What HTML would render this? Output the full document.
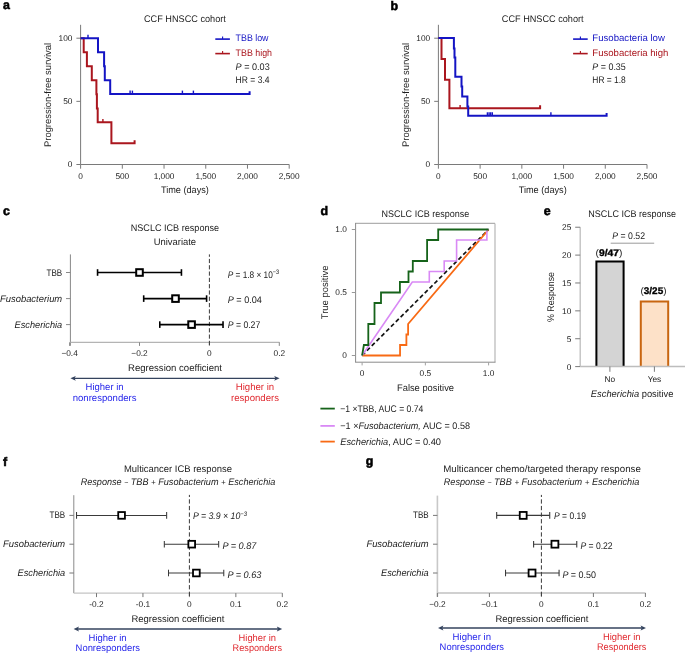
<!DOCTYPE html>
<html><head><meta charset="utf-8"><title>figure</title>
<style>
html,body{margin:0;padding:0;background:#fff;}
svg{display:block;font-family:"Liberation Sans",sans-serif;will-change:transform;text-rendering:geometricPrecision;}
</style></head>
<body>
<svg width="685" height="653" viewBox="0 0 685 653" fill="#1c1c1c">
<rect width="685" height="653" fill="#fff"/>
<line x1="80.60" y1="24.80" x2="80.60" y2="164.50" stroke="#7a7a7a" stroke-width="1" />
<line x1="80.60" y1="164.50" x2="289.20" y2="164.50" stroke="#7a7a7a" stroke-width="1" />
<line x1="76.40" y1="38.20" x2="80.60" y2="38.20" stroke="#7a7a7a" stroke-width="1" />
<text x="72.40" y="41.10" font-size="8.3" text-anchor="end" >100</text>
<line x1="76.40" y1="101.35" x2="80.60" y2="101.35" stroke="#7a7a7a" stroke-width="1" />
<text x="72.40" y="104.25" font-size="8.3" text-anchor="end" >50</text>
<line x1="76.40" y1="164.50" x2="80.60" y2="164.50" stroke="#7a7a7a" stroke-width="1" />
<text x="72.40" y="167.40" font-size="8.3" text-anchor="end" >0</text>
<line x1="80.60" y1="164.50" x2="80.60" y2="168.70" stroke="#7a7a7a" stroke-width="1" />
<text x="80.60" y="179.20" font-size="8.3" text-anchor="middle" >0</text>
<line x1="122.32" y1="164.50" x2="122.32" y2="168.70" stroke="#7a7a7a" stroke-width="1" />
<text x="122.32" y="179.20" font-size="8.3" text-anchor="middle" >500</text>
<line x1="164.04" y1="164.50" x2="164.04" y2="168.70" stroke="#7a7a7a" stroke-width="1" />
<text x="164.04" y="179.20" font-size="8.3" text-anchor="middle" >1,000</text>
<line x1="205.76" y1="164.50" x2="205.76" y2="168.70" stroke="#7a7a7a" stroke-width="1" />
<text x="205.76" y="179.20" font-size="8.3" text-anchor="middle" >1,500</text>
<line x1="247.48" y1="164.50" x2="247.48" y2="168.70" stroke="#7a7a7a" stroke-width="1" />
<text x="247.48" y="179.20" font-size="8.3" text-anchor="middle" >2,000</text>
<line x1="289.20" y1="164.50" x2="289.20" y2="168.70" stroke="#7a7a7a" stroke-width="1" />
<text x="289.20" y="179.20" font-size="8.3" text-anchor="middle" >2,500</text>
<text x="184.90" y="193.30" font-size="9.6" text-anchor="middle" textLength="48.00" lengthAdjust="spacingAndGlyphs" >Time (days)</text>
<text transform="translate(51.20,95) rotate(-90)" font-size="9.6" text-anchor="middle" textLength="104" lengthAdjust="spacingAndGlyphs" fill="#1c1c1c">Progression-free survival</text>
<text x="144.00" y="22.00" font-size="9.6" textLength="81.80" lengthAdjust="spacingAndGlyphs" >CCF HNSCC cohort</text>
<line x1="215.30" y1="39.10" x2="229.90" y2="39.10" stroke="#1414c4" stroke-width="1.6" />
<line x1="222.60" y1="39.10" x2="222.60" y2="36.60" stroke="#1414c4" stroke-width="1.1" />
<line x1="215.30" y1="53.60" x2="229.90" y2="53.60" stroke="#aa161e" stroke-width="1.6" />
<line x1="222.60" y1="53.60" x2="222.60" y2="51.10" stroke="#aa161e" stroke-width="1.1" />
<text x="235.60" y="41.40" font-size="9.6" textLength="32.90" lengthAdjust="spacingAndGlyphs" fill="#1414c4" >TBB low</text>
<text x="235.60" y="56.10" font-size="9.6" textLength="36.40" lengthAdjust="spacingAndGlyphs" fill="#aa161e" >TBB high</text>
<text x="235.60" y="70.30" font-size="9.6" textLength="34.10" lengthAdjust="spacingAndGlyphs" ><tspan font-style="italic">P</tspan> = 0.03</text>
<text x="235.60" y="83.30" font-size="9.6" textLength="34.00" lengthAdjust="spacingAndGlyphs" >HR = 3.4</text>
<path d="M80.60,38.20 L83.70,38.20 L83.70,52.20 L86.90,52.20 L86.90,66.30 L91.80,66.30 L91.80,80.20 L96.40,80.20 L96.40,94.30 L96.90,94.30 L96.90,108.40 L97.70,108.40 L97.70,122.30 L111.40,122.30 L111.40,143.30 L134.60,143.30 L134.60,140.30" fill="none" stroke="#aa161e" stroke-width="2" stroke-linejoin="miter" stroke-linecap="butt" />
<path d="M80.60,38.20 L98.00,38.20 L98.00,52.20 L104.10,52.20 L104.10,66.30 L104.80,66.30 L104.80,80.20 L110.20,80.20 L110.20,94.00 L249.60,94.00 L249.60,91.20" fill="none" stroke="#1414c4" stroke-width="2" stroke-linejoin="miter" stroke-linecap="butt" />
<line x1="88.00" y1="38.20" x2="88.00" y2="34.80" stroke="#1414c4" stroke-width="1.4" />
<line x1="130.10" y1="94.00" x2="130.10" y2="90.60" stroke="#1414c4" stroke-width="1.4" />
<line x1="132.40" y1="94.00" x2="132.40" y2="90.60" stroke="#1414c4" stroke-width="1.4" />
<line x1="182.40" y1="94.00" x2="182.40" y2="90.60" stroke="#1414c4" stroke-width="1.4" />
<line x1="193.40" y1="94.00" x2="193.40" y2="90.60" stroke="#1414c4" stroke-width="1.4" />
<line x1="102.90" y1="122.30" x2="102.90" y2="118.90" stroke="#aa161e" stroke-width="1.4" />
<line x1="438.40" y1="24.80" x2="438.40" y2="164.50" stroke="#7a7a7a" stroke-width="1" />
<line x1="438.40" y1="164.50" x2="647.00" y2="164.50" stroke="#7a7a7a" stroke-width="1" />
<line x1="434.20" y1="38.20" x2="438.40" y2="38.20" stroke="#7a7a7a" stroke-width="1" />
<text x="430.20" y="41.10" font-size="8.3" text-anchor="end" >100</text>
<line x1="434.20" y1="101.35" x2="438.40" y2="101.35" stroke="#7a7a7a" stroke-width="1" />
<text x="430.20" y="104.25" font-size="8.3" text-anchor="end" >50</text>
<line x1="434.20" y1="164.50" x2="438.40" y2="164.50" stroke="#7a7a7a" stroke-width="1" />
<text x="430.20" y="167.40" font-size="8.3" text-anchor="end" >0</text>
<line x1="438.40" y1="164.50" x2="438.40" y2="168.70" stroke="#7a7a7a" stroke-width="1" />
<text x="438.40" y="179.20" font-size="8.3" text-anchor="middle" >0</text>
<line x1="480.12" y1="164.50" x2="480.12" y2="168.70" stroke="#7a7a7a" stroke-width="1" />
<text x="480.12" y="179.20" font-size="8.3" text-anchor="middle" >500</text>
<line x1="521.84" y1="164.50" x2="521.84" y2="168.70" stroke="#7a7a7a" stroke-width="1" />
<text x="521.84" y="179.20" font-size="8.3" text-anchor="middle" >1,000</text>
<line x1="563.56" y1="164.50" x2="563.56" y2="168.70" stroke="#7a7a7a" stroke-width="1" />
<text x="563.56" y="179.20" font-size="8.3" text-anchor="middle" >1,500</text>
<line x1="605.28" y1="164.50" x2="605.28" y2="168.70" stroke="#7a7a7a" stroke-width="1" />
<text x="605.28" y="179.20" font-size="8.3" text-anchor="middle" >2,000</text>
<line x1="647.00" y1="164.50" x2="647.00" y2="168.70" stroke="#7a7a7a" stroke-width="1" />
<text x="647.00" y="179.20" font-size="8.3" text-anchor="middle" >2,500</text>
<text x="542.70" y="193.30" font-size="9.6" text-anchor="middle" textLength="48.00" lengthAdjust="spacingAndGlyphs" >Time (days)</text>
<text transform="translate(409.00,95) rotate(-90)" font-size="9.6" text-anchor="middle" textLength="104" lengthAdjust="spacingAndGlyphs" fill="#1c1c1c">Progression-free survival</text>
<text x="501.80" y="22.00" font-size="9.6" textLength="81.80" lengthAdjust="spacingAndGlyphs" >CCF HNSCC cohort</text>
<line x1="573.10" y1="39.10" x2="587.70" y2="39.10" stroke="#1414c4" stroke-width="1.6" />
<line x1="580.40" y1="39.10" x2="580.40" y2="36.60" stroke="#1414c4" stroke-width="1.1" />
<line x1="573.10" y1="53.60" x2="587.70" y2="53.60" stroke="#aa161e" stroke-width="1.6" />
<line x1="580.40" y1="53.60" x2="580.40" y2="51.10" stroke="#aa161e" stroke-width="1.1" />
<text x="592.30" y="41.40" font-size="9.6" textLength="72.60" lengthAdjust="spacingAndGlyphs" fill="#1414c4" >Fusobacteria low</text>
<text x="592.30" y="56.10" font-size="9.6" textLength="76.10" lengthAdjust="spacingAndGlyphs" fill="#aa161e" >Fusobacteria high</text>
<text x="592.30" y="70.30" font-size="9.6" textLength="33.50" lengthAdjust="spacingAndGlyphs" ><tspan font-style="italic">P</tspan> = 0.35</text>
<text x="592.30" y="83.30" font-size="9.6" textLength="33.50" lengthAdjust="spacingAndGlyphs" >HR = 1.8</text>
<path d="M438.40,37.90 L441.50,37.90 L441.50,58.90 L445.00,58.90 L445.00,79.80 L449.40,79.80 L449.40,108.30 L540.10,108.30 L540.10,105.30" fill="none" stroke="#aa161e" stroke-width="2" stroke-linejoin="miter" stroke-linecap="butt" />
<path d="M438.40,37.90 L453.90,37.90 L453.90,48.50 L454.50,48.50 L454.50,57.50 L455.30,57.50 L455.30,76.80 L461.50,76.80 L461.50,86.40 L462.20,86.40 L462.20,96.40 L467.40,96.40 L467.40,106.40 L468.20,106.40 L468.20,115.70 L606.60,115.70 L606.60,112.90" fill="none" stroke="#1414c4" stroke-width="2" stroke-linejoin="miter" stroke-linecap="butt" />
<line x1="487.40" y1="115.70" x2="487.40" y2="112.30" stroke="#1414c4" stroke-width="1.4" />
<line x1="489.10" y1="115.70" x2="489.10" y2="112.30" stroke="#1414c4" stroke-width="1.4" />
<line x1="490.70" y1="115.70" x2="490.70" y2="112.30" stroke="#1414c4" stroke-width="1.4" />
<line x1="492.30" y1="115.70" x2="492.30" y2="112.30" stroke="#1414c4" stroke-width="1.4" />
<line x1="550.90" y1="115.70" x2="550.90" y2="112.30" stroke="#1414c4" stroke-width="1.4" />
<line x1="460.10" y1="108.30" x2="460.10" y2="104.90" stroke="#aa161e" stroke-width="1.4" />
<text x="3.00" y="9.00" font-size="12.4" fill="#000" font-weight="bold" stroke="#000" stroke-width="0.55">a</text>
<text x="390.60" y="10.00" font-size="12.4" fill="#000" font-weight="bold" stroke="#000" stroke-width="0.55">b</text>
<text x="3.00" y="214.90" font-size="12.4" fill="#000" font-weight="bold" stroke="#000" stroke-width="0.55">c</text>
<line x1="70.40" y1="254.40" x2="70.40" y2="345.80" stroke="#888" stroke-width="1" />
<line x1="70.40" y1="342.30" x2="279.50" y2="342.30" stroke="#b4b4b4" stroke-width="1.2" />
<line x1="69.60" y1="342.30" x2="69.60" y2="345.90" stroke="#888" stroke-width="1" />
<text x="69.60" y="356.00" font-size="8.3" text-anchor="middle" >−0.4</text>
<line x1="139.50" y1="342.30" x2="139.50" y2="345.90" stroke="#888" stroke-width="1" />
<text x="139.50" y="356.00" font-size="8.3" text-anchor="middle" >−0.2</text>
<line x1="209.40" y1="342.30" x2="209.40" y2="345.90" stroke="#888" stroke-width="1" />
<text x="209.40" y="356.00" font-size="8.3" text-anchor="middle" >0</text>
<line x1="279.30" y1="342.30" x2="279.30" y2="345.90" stroke="#888" stroke-width="1" />
<text x="279.30" y="356.00" font-size="8.3" text-anchor="middle" >0.2</text>
<line x1="209.40" y1="254.40" x2="209.40" y2="345.90" stroke="#3a3a3a" stroke-width="1" stroke-dasharray="4.2 2.1" stroke-dashoffset="1.8"/>
<line x1="66.00" y1="272.50" x2="70.40" y2="272.50" stroke="#888" stroke-width="1" />
<line x1="97.56" y1="272.50" x2="181.44" y2="272.50" stroke="#000" stroke-width="1.6" />
<line x1="97.56" y1="269.20" x2="97.56" y2="275.80" stroke="#000" stroke-width="1.6" />
<line x1="181.44" y1="269.20" x2="181.44" y2="275.80" stroke="#000" stroke-width="1.6" />
<rect x="136.20" y="269.20" width="6.60" height="6.60" fill="#fff" stroke="#000" stroke-width="2.0"/>
<line x1="66.00" y1="298.60" x2="70.40" y2="298.60" stroke="#888" stroke-width="1" />
<line x1="143.69" y1="298.60" x2="206.60" y2="298.60" stroke="#000" stroke-width="1.6" />
<line x1="143.69" y1="295.30" x2="143.69" y2="301.90" stroke="#000" stroke-width="1.6" />
<line x1="206.60" y1="295.30" x2="206.60" y2="301.90" stroke="#000" stroke-width="1.6" />
<rect x="172.20" y="295.30" width="6.60" height="6.60" fill="#fff" stroke="#000" stroke-width="2.0"/>
<line x1="66.00" y1="324.60" x2="70.40" y2="324.60" stroke="#888" stroke-width="1" />
<line x1="159.77" y1="324.60" x2="223.03" y2="324.60" stroke="#000" stroke-width="1.6" />
<line x1="159.77" y1="321.30" x2="159.77" y2="327.90" stroke="#000" stroke-width="1.6" />
<line x1="223.03" y1="321.30" x2="223.03" y2="327.90" stroke="#000" stroke-width="1.6" />
<rect x="188.28" y="321.30" width="6.60" height="6.60" fill="#fff" stroke="#000" stroke-width="2.0"/>
<text x="62.20" y="275.60" font-size="9.6" text-anchor="end" textLength="15.60" lengthAdjust="spacingAndGlyphs" >TBB</text>
<text x="62.20" y="301.60" font-size="9.6" text-anchor="end" textLength="62.20" lengthAdjust="spacingAndGlyphs" font-style="italic" >Fusobacterium</text>
<text x="62.20" y="327.60" font-size="9.6" text-anchor="end" textLength="47.60" lengthAdjust="spacingAndGlyphs" font-style="italic" >Escherichia</text>
<text x="227.70" y="277.50" font-size="9.6" textLength="51.40" lengthAdjust="spacingAndGlyphs" ><tspan font-style="italic">P</tspan> = 1.8 × 10<tspan dy="-3.4" font-size="6.4">−3</tspan></text>
<text x="227.70" y="302.50" font-size="9.6" textLength="34.20" lengthAdjust="spacingAndGlyphs" ><tspan font-style="italic">P</tspan> = 0.04</text>
<text x="227.70" y="327.60" font-size="9.6" textLength="32.60" lengthAdjust="spacingAndGlyphs" ><tspan font-style="italic">P</tspan> = 0.27</text>
<text x="174.90" y="231.00" font-size="9.6" text-anchor="middle" textLength="88.40" lengthAdjust="spacingAndGlyphs" >NSCLC ICB response</text>
<text x="174.90" y="244.60" font-size="9.6" text-anchor="middle" textLength="42.40" lengthAdjust="spacingAndGlyphs" >Univariate</text>
<line x1="73.40" y1="378.3" x2="276.60" y2="378.3" stroke="#34435e" stroke-width="1.35"/>
<path d="M70.40,378.3 L75.80,375.90 L74.60,378.3 L75.80,380.70 Z" fill="#34435e"/>
<path d="M279.60,378.3 L274.20,375.90 L275.40,378.3 L274.20,380.70 Z" fill="#34435e"/>
<text x="104.60" y="390.00" font-size="9.6" text-anchor="middle" textLength="38.00" lengthAdjust="spacingAndGlyphs" fill="#2626ea" >Higher in</text>
<text x="104.60" y="401.00" font-size="9.6" text-anchor="middle" textLength="63.80" lengthAdjust="spacingAndGlyphs" fill="#2626ea" >nonresponders</text>
<text x="255.00" y="390.00" font-size="9.6" text-anchor="middle" textLength="38.40" lengthAdjust="spacingAndGlyphs" fill="#e02a30" >Higher in</text>
<text x="255.00" y="401.00" font-size="9.6" text-anchor="middle" textLength="48.00" lengthAdjust="spacingAndGlyphs" fill="#e02a30" >responders</text>
<text x="175.00" y="370.60" font-size="9.6" text-anchor="middle" textLength="94.00" lengthAdjust="spacingAndGlyphs" >Regression coefficient</text>
<text x="320.40" y="214.80" font-size="12.4" fill="#000" font-weight="bold" stroke="#000" stroke-width="0.55">d</text>
<text x="425.40" y="216.80" font-size="9.6" text-anchor="middle" textLength="87.60" lengthAdjust="spacingAndGlyphs" >NSCLC ICB response</text>
<line x1="355.60" y1="223.40" x2="495.00" y2="223.40" stroke="#b0b0b0" stroke-width="1.1" />
<line x1="495.00" y1="223.40" x2="495.00" y2="362.20" stroke="#b0b0b0" stroke-width="1.1" />
<line x1="355.60" y1="222.90" x2="355.60" y2="362.20" stroke="#8a8a8a" stroke-width="1" />
<line x1="355.10" y1="362.20" x2="495.50" y2="362.20" stroke="#8a8a8a" stroke-width="1" />
<line x1="362.10" y1="362.20" x2="362.10" y2="365.40" stroke="#a0a0a0" stroke-width="1" />
<text x="362.10" y="376.10" font-size="8.3" text-anchor="middle" >0</text>
<line x1="351.80" y1="355.50" x2="355.60" y2="355.50" stroke="#999" stroke-width="1" />
<text x="346.90" y="358.40" font-size="8.3" text-anchor="end" >0</text>
<line x1="425.35" y1="362.20" x2="425.35" y2="365.40" stroke="#a0a0a0" stroke-width="1" />
<text x="425.35" y="376.10" font-size="8.3" text-anchor="middle" >0.5</text>
<line x1="351.80" y1="292.50" x2="355.60" y2="292.50" stroke="#999" stroke-width="1" />
<text x="346.90" y="295.40" font-size="8.3" text-anchor="end" >0.5</text>
<line x1="488.60" y1="362.20" x2="488.60" y2="365.40" stroke="#a0a0a0" stroke-width="1" />
<text x="488.60" y="376.10" font-size="8.3" text-anchor="middle" >1.0</text>
<line x1="351.80" y1="229.50" x2="355.60" y2="229.50" stroke="#999" stroke-width="1" />
<text x="346.90" y="232.40" font-size="8.3" text-anchor="end" >1.0</text>
<text x="425.50" y="390.80" font-size="9.6" text-anchor="middle" textLength="57.00" lengthAdjust="spacingAndGlyphs" >False positive</text>
<text transform="translate(327.6,292.4) rotate(-90)" font-size="9.6" text-anchor="middle" textLength="53.7" lengthAdjust="spacingAndGlyphs" fill="#1c1c1c">True positive</text>
<line x1="362.10" y1="355.50" x2="488.60" y2="229.50" stroke="#111" stroke-width="1.7" stroke-dasharray="4.2 2.6"/>
<path d="M362.10,355.50 L400.05,355.50 L400.05,345.00 L406.40,345.00 L406.40,334.50 L408.10,334.50 L408.10,324.00 L488.60,229.50" fill="none" stroke="#f86a14" stroke-width="1.8" stroke-linejoin="miter" stroke-linecap="butt" />
<path d="M362.10,355.50 L412.30,282.00 L429.30,282.00 L429.30,271.50 L444.20,271.50 L444.20,261.00 L456.60,261.00 L456.60,240.00 L486.90,240.00 L486.90,229.50 L488.60,229.50" fill="none" stroke="#d989f5" stroke-width="1.6" stroke-linejoin="miter" stroke-linecap="butt" />
<path d="M362.10,355.50 L363.90,345.00 L368.30,345.00 L368.30,324.00 L374.50,324.00 L374.50,303.00 L381.00,303.00 L381.00,292.50 L399.90,292.50 L399.90,282.00 L408.50,282.00 L408.50,271.50 L412.80,271.50 L412.80,261.00 L427.10,261.00 L427.10,240.00 L438.20,240.00 L438.20,229.50 L488.60,229.50" fill="none" stroke="#16631a" stroke-width="1.8" stroke-linejoin="miter" stroke-linecap="butt" />
<line x1="320.40" y1="408.60" x2="334.80" y2="408.60" stroke="#16631a" stroke-width="1.8" />
<text x="340.30" y="411.90" font-size="9.6" textLength="83.10" lengthAdjust="spacingAndGlyphs" >−1 ×TBB, AUC = 0.74</text>
<line x1="320.40" y1="425.90" x2="334.80" y2="425.90" stroke="#d989f5" stroke-width="1.8" />
<text x="340.30" y="429.20" font-size="9.6" textLength="129.70" lengthAdjust="spacingAndGlyphs" >−1 ×<tspan font-style="italic">Fusobacterium,</tspan> AUC = 0.58</text>
<line x1="320.40" y1="441.60" x2="334.80" y2="441.60" stroke="#f86a14" stroke-width="1.8" />
<text x="340.30" y="444.90" font-size="9.6" textLength="100.70" lengthAdjust="spacingAndGlyphs" ><tspan font-style="italic">Escherichia</tspan>, AUC = 0.40</text>
<text x="543.80" y="214.90" font-size="12.4" fill="#000" font-weight="bold" stroke="#000" stroke-width="0.55">e</text>
<text x="632.20" y="216.50" font-size="9.6" text-anchor="middle" textLength="87.70" lengthAdjust="spacingAndGlyphs" >NSCLC ICB response</text>
<line x1="580.20" y1="227.20" x2="580.20" y2="366.70" stroke="#bdbdbd" stroke-width="1.3" />
<line x1="575.20" y1="366.60" x2="580.20" y2="366.60" stroke="#7a7a7a" stroke-width="1" />
<text x="571.30" y="369.50" font-size="8.3" text-anchor="end" >0</text>
<line x1="575.20" y1="338.73" x2="580.20" y2="338.73" stroke="#7a7a7a" stroke-width="1" />
<text x="571.30" y="341.62" font-size="8.3" text-anchor="end" >5</text>
<line x1="575.20" y1="310.85" x2="580.20" y2="310.85" stroke="#7a7a7a" stroke-width="1" />
<text x="571.30" y="313.75" font-size="8.3" text-anchor="end" >10</text>
<line x1="575.20" y1="282.98" x2="580.20" y2="282.98" stroke="#7a7a7a" stroke-width="1" />
<text x="571.30" y="285.88" font-size="8.3" text-anchor="end" >15</text>
<line x1="575.20" y1="255.10" x2="580.20" y2="255.10" stroke="#7a7a7a" stroke-width="1" />
<text x="571.30" y="258.00" font-size="8.3" text-anchor="end" >20</text>
<line x1="575.20" y1="227.23" x2="580.20" y2="227.23" stroke="#7a7a7a" stroke-width="1" />
<text x="571.30" y="230.13" font-size="8.3" text-anchor="end" >25</text>
<text transform="translate(553.6,297) rotate(-90)" font-size="9.6" text-anchor="middle" textLength="50" lengthAdjust="spacingAndGlyphs" fill="#1c1c1c">% Response</text>
<rect x="596.4" y="261.4" width="27.2" height="105.3" fill="#d4d4d4"/>
<path d="M596.4,366.4 V261.4 H623.6 V366.4" fill="none" stroke="#000" stroke-width="2"/>
<rect x="640.8" y="301.4" width="27.4" height="65.3" fill="#fde1c8"/>
<path d="M640.8,366.4 V301.4 H668.2 V366.4" fill="none" stroke="#c8650f" stroke-width="2"/>
<line x1="580.20" y1="366.50" x2="685.00" y2="366.50" stroke="#bdbdbd" stroke-width="1.3" />
<line x1="609.90" y1="366.50" x2="609.90" y2="371.80" stroke="#7a7a7a" stroke-width="1" />
<line x1="654.40" y1="366.50" x2="654.40" y2="371.80" stroke="#7a7a7a" stroke-width="1" />
<text x="609.90" y="382.30" font-size="8.3" text-anchor="middle" >No</text>
<text x="654.40" y="382.30" font-size="8.3" text-anchor="middle" >Yes</text>
<text x="632.10" y="397.00" font-size="9.6" text-anchor="middle" textLength="82.50" lengthAdjust="spacingAndGlyphs" ><tspan font-style="italic">Escherichia</tspan> positive</text>
<text x="595.50" y="256.00" font-size="9.6" textLength="26.90" lengthAdjust="spacingAndGlyphs" >(<tspan font-weight="bold" fill="#000" stroke="#000" stroke-width="0.35">9/47</tspan>)</text>
<text x="640.50" y="294.00" font-size="9.6" textLength="26.00" lengthAdjust="spacingAndGlyphs" >(<tspan font-weight="bold" fill="#000" stroke="#000" stroke-width="0.35">3/25</tspan>)</text>
<text x="612.30" y="239.00" font-size="9.6" textLength="32.70" lengthAdjust="spacingAndGlyphs" ><tspan font-style="italic">P</tspan> = 0.52</text>
<line x1="610.70" y1="243.20" x2="654.20" y2="243.20" stroke="#9a9a9a" stroke-width="1" />
<text x="3.00" y="465.50" font-size="12.4" fill="#000" font-weight="bold" stroke="#000" stroke-width="0.55">f</text>
<line x1="73.80" y1="495.20" x2="73.80" y2="593.10" stroke="#8a8a8a" stroke-width="1" />
<line x1="73.80" y1="593.10" x2="282.40" y2="593.10" stroke="#c4c4c4" stroke-width="1.4" />
<line x1="96.50" y1="593.10" x2="96.50" y2="597.10" stroke="#777" stroke-width="1" />
<text x="96.50" y="607.40" font-size="8.3" text-anchor="middle" >-0.2</text>
<line x1="142.95" y1="593.10" x2="142.95" y2="597.10" stroke="#777" stroke-width="1" />
<text x="142.95" y="607.40" font-size="8.3" text-anchor="middle" >-0.1</text>
<line x1="189.40" y1="593.10" x2="189.40" y2="597.10" stroke="#777" stroke-width="1" />
<text x="189.40" y="607.40" font-size="8.3" text-anchor="middle" >0</text>
<line x1="235.85" y1="593.10" x2="235.85" y2="597.10" stroke="#777" stroke-width="1" />
<text x="235.85" y="607.40" font-size="8.3" text-anchor="middle" >0.1</text>
<line x1="282.30" y1="593.10" x2="282.30" y2="597.10" stroke="#777" stroke-width="1" />
<text x="282.30" y="607.40" font-size="8.3" text-anchor="middle" >0.2</text>
<line x1="189.40" y1="494.90" x2="189.40" y2="597.10" stroke="#3a3a3a" stroke-width="1" stroke-dasharray="4.3 2.3" stroke-dashoffset="2.2"/>
<line x1="69.40" y1="515.40" x2="73.80" y2="515.40" stroke="#777" stroke-width="1" />
<line x1="76.53" y1="515.40" x2="166.64" y2="515.40" stroke="#3a3a3a" stroke-width="1.05" />
<line x1="76.53" y1="512.10" x2="76.53" y2="518.70" stroke="#3a3a3a" stroke-width="1.05" />
<line x1="166.64" y1="512.10" x2="166.64" y2="518.70" stroke="#3a3a3a" stroke-width="1.05" />
<rect x="118.23" y="512.05" width="6.70" height="6.70" fill="#fff" stroke="#000" stroke-width="1.8"/>
<line x1="69.40" y1="544.20" x2="73.80" y2="544.20" stroke="#777" stroke-width="1" />
<line x1="164.32" y1="544.20" x2="218.66" y2="544.20" stroke="#3a3a3a" stroke-width="1.05" />
<line x1="164.32" y1="540.90" x2="164.32" y2="547.50" stroke="#3a3a3a" stroke-width="1.05" />
<line x1="218.66" y1="540.90" x2="218.66" y2="547.50" stroke="#3a3a3a" stroke-width="1.05" />
<rect x="188.37" y="540.85" width="6.70" height="6.70" fill="#fff" stroke="#000" stroke-width="1.8"/>
<line x1="69.40" y1="573.00" x2="73.80" y2="573.00" stroke="#777" stroke-width="1" />
<line x1="168.50" y1="573.00" x2="223.77" y2="573.00" stroke="#3a3a3a" stroke-width="1.05" />
<line x1="168.50" y1="569.70" x2="168.50" y2="576.30" stroke="#3a3a3a" stroke-width="1.05" />
<line x1="223.77" y1="569.70" x2="223.77" y2="576.30" stroke="#3a3a3a" stroke-width="1.05" />
<rect x="193.02" y="569.65" width="6.70" height="6.70" fill="#fff" stroke="#000" stroke-width="1.8"/>
<text x="65.20" y="518.20" font-size="9.6" text-anchor="end" textLength="15.60" lengthAdjust="spacingAndGlyphs" >TBB</text>
<text x="65.20" y="547.20" font-size="9.6" text-anchor="end" textLength="62.20" lengthAdjust="spacingAndGlyphs" font-style="italic" >Fusobacterium</text>
<text x="65.20" y="576.20" font-size="9.6" text-anchor="end" textLength="47.60" lengthAdjust="spacingAndGlyphs" font-style="italic" >Escherichia</text>
<text x="193.00" y="519.40" font-size="9.6" textLength="54.00" lengthAdjust="spacingAndGlyphs" ><tspan font-style="italic">P = 3.9 × 10<tspan dy="-3.4" font-size="6.4">−3</tspan></tspan></text>
<text x="222.40" y="548.60" font-size="9.6" textLength="34.00" lengthAdjust="spacingAndGlyphs" ><tspan font-style="italic">P = 0.87</tspan></text>
<text x="227.40" y="577.60" font-size="9.6" textLength="34.00" lengthAdjust="spacingAndGlyphs" ><tspan font-style="italic">P = 0.63</tspan></text>
<text x="178.00" y="472.00" font-size="9.6" text-anchor="middle" textLength="108.10" lengthAdjust="spacingAndGlyphs" >Multicancer ICB response</text>
<text x="178.00" y="484.90" font-size="9.6" text-anchor="middle" textLength="194.70" lengthAdjust="spacingAndGlyphs" font-style="italic" >Response <tspan font-size="7.2">~</tspan> TBB <tspan font-size="8.4">+</tspan> Fusobacterium <tspan font-size="8.4">+</tspan> Escherichia</text>
<line x1="76.60" y1="629" x2="279.20" y2="629" stroke="#34435e" stroke-width="1.35"/>
<path d="M73.60,629 L79.00,626.60 L77.80,629 L79.00,631.40 Z" fill="#34435e"/>
<path d="M282.20,629 L276.80,626.60 L278.00,629 L276.80,631.40 Z" fill="#34435e"/>
<text x="107.60" y="641.00" font-size="9.6" text-anchor="middle" textLength="38.00" lengthAdjust="spacingAndGlyphs" fill="#2626ea" >Higher in</text>
<text x="107.80" y="651.00" font-size="9.6" text-anchor="middle" textLength="64.40" lengthAdjust="spacingAndGlyphs" fill="#2626ea" >Nonresponders</text>
<text x="257.30" y="641.00" font-size="9.6" text-anchor="middle" textLength="37.40" lengthAdjust="spacingAndGlyphs" fill="#e02a30" >Higher in</text>
<text x="257.30" y="651.00" font-size="9.6" text-anchor="middle" textLength="49.40" lengthAdjust="spacingAndGlyphs" fill="#e02a30" >Responders</text>
<text x="177.90" y="622.00" font-size="9.6" text-anchor="middle" textLength="93.00" lengthAdjust="spacingAndGlyphs" >Regression coefficient</text>
<text x="365.80" y="465.20" font-size="12.4" fill="#000" font-weight="bold" stroke="#000" stroke-width="0.55">g</text>
<line x1="437.40" y1="495.60" x2="437.40" y2="596.70" stroke="#c8c8c8" stroke-width="1.6" />
<line x1="437.40" y1="593.00" x2="645.50" y2="593.00" stroke="#c0c0c0" stroke-width="1.6" />
<line x1="437.40" y1="593.00" x2="437.40" y2="597.00" stroke="#777" stroke-width="1" />
<text x="437.40" y="607.40" font-size="8.3" text-anchor="middle" >−0.2</text>
<line x1="489.40" y1="593.00" x2="489.40" y2="597.00" stroke="#777" stroke-width="1" />
<text x="489.40" y="607.40" font-size="8.3" text-anchor="middle" >−0.1</text>
<line x1="541.40" y1="593.00" x2="541.40" y2="597.00" stroke="#777" stroke-width="1" />
<text x="541.40" y="607.40" font-size="8.3" text-anchor="middle" >0</text>
<line x1="593.40" y1="593.00" x2="593.40" y2="597.00" stroke="#777" stroke-width="1" />
<text x="593.40" y="607.40" font-size="8.3" text-anchor="middle" >0.1</text>
<line x1="645.40" y1="593.00" x2="645.40" y2="597.00" stroke="#777" stroke-width="1" />
<text x="645.40" y="607.40" font-size="8.3" text-anchor="middle" >0.2</text>
<line x1="541.40" y1="494.90" x2="541.40" y2="597.00" stroke="#3a3a3a" stroke-width="1" stroke-dasharray="4.3 2.3" stroke-dashoffset="2.2"/>
<line x1="433.00" y1="515.40" x2="437.40" y2="515.40" stroke="#777" stroke-width="1" />
<line x1="496.68" y1="515.40" x2="549.72" y2="515.40" stroke="#3a3a3a" stroke-width="1.1" />
<line x1="496.68" y1="512.10" x2="496.68" y2="518.70" stroke="#3a3a3a" stroke-width="1.1" />
<line x1="549.72" y1="512.10" x2="549.72" y2="518.70" stroke="#3a3a3a" stroke-width="1.1" />
<rect x="519.75" y="511.95" width="6.90" height="6.90" fill="#fff" stroke="#000" stroke-width="1.8"/>
<line x1="433.00" y1="544.20" x2="437.40" y2="544.20" stroke="#777" stroke-width="1" />
<line x1="533.60" y1="544.20" x2="576.76" y2="544.20" stroke="#3a3a3a" stroke-width="1.1" />
<line x1="533.60" y1="540.90" x2="533.60" y2="547.50" stroke="#3a3a3a" stroke-width="1.1" />
<line x1="576.76" y1="540.90" x2="576.76" y2="547.50" stroke="#3a3a3a" stroke-width="1.1" />
<rect x="551.47" y="540.75" width="6.90" height="6.90" fill="#fff" stroke="#000" stroke-width="1.8"/>
<line x1="433.00" y1="573.00" x2="437.40" y2="573.00" stroke="#777" stroke-width="1" />
<line x1="505.52" y1="573.00" x2="559.08" y2="573.00" stroke="#3a3a3a" stroke-width="1.1" />
<line x1="505.52" y1="569.70" x2="505.52" y2="576.30" stroke="#3a3a3a" stroke-width="1.1" />
<line x1="559.08" y1="569.70" x2="559.08" y2="576.30" stroke="#3a3a3a" stroke-width="1.1" />
<rect x="528.59" y="569.55" width="6.90" height="6.90" fill="#fff" stroke="#000" stroke-width="1.8"/>
<text x="428.60" y="518.20" font-size="9.6" text-anchor="end" textLength="15.60" lengthAdjust="spacingAndGlyphs" >TBB</text>
<text x="428.60" y="547.20" font-size="9.6" text-anchor="end" textLength="62.20" lengthAdjust="spacingAndGlyphs" font-style="italic" >Fusobacterium</text>
<text x="428.60" y="576.20" font-size="9.6" text-anchor="end" textLength="47.60" lengthAdjust="spacingAndGlyphs" font-style="italic" >Escherichia</text>
<text x="554.00" y="519.40" font-size="9.6" textLength="32.00" lengthAdjust="spacingAndGlyphs" ><tspan font-style="italic">P</tspan> = 0.19</text>
<text x="580.40" y="548.60" font-size="9.6" textLength="32.20" lengthAdjust="spacingAndGlyphs" ><tspan font-style="italic">P</tspan> = 0.22</text>
<text x="562.40" y="577.60" font-size="9.6" textLength="33.60" lengthAdjust="spacingAndGlyphs" ><tspan font-style="italic">P</tspan> = 0.50</text>
<text x="542.00" y="471.80" font-size="9.6" text-anchor="middle" textLength="197.70" lengthAdjust="spacingAndGlyphs" >Multicancer chemo/targeted therapy response</text>
<text x="541.50" y="484.60" font-size="9.6" text-anchor="middle" textLength="195.60" lengthAdjust="spacingAndGlyphs" font-style="italic" >Response <tspan font-size="7.2">~</tspan> TBB <tspan font-size="8.4">+</tspan> Fusobacterium <tspan font-size="8.4">+</tspan> Escherichia</text>
<line x1="441.00" y1="628" x2="643.00" y2="628" stroke="#34435e" stroke-width="1.35"/>
<path d="M438.00,628 L443.40,625.60 L442.20,628 L443.40,630.40 Z" fill="#34435e"/>
<path d="M646.00,628 L640.60,625.60 L641.80,628 L640.60,630.40 Z" fill="#34435e"/>
<text x="471.80" y="640.00" font-size="9.6" text-anchor="middle" textLength="38.40" lengthAdjust="spacingAndGlyphs" fill="#2626ea" >Higher in</text>
<text x="471.80" y="650.00" font-size="9.6" text-anchor="middle" textLength="64.40" lengthAdjust="spacingAndGlyphs" fill="#2626ea" >Nonresponders</text>
<text x="621.80" y="640.00" font-size="9.6" text-anchor="middle" textLength="37.60" lengthAdjust="spacingAndGlyphs" fill="#e02a30" >Higher in</text>
<text x="621.70" y="650.00" font-size="9.6" text-anchor="middle" textLength="49.40" lengthAdjust="spacingAndGlyphs" fill="#e02a30" >Responders</text>
<text x="542.00" y="622.00" font-size="9.6" text-anchor="middle" textLength="93.00" lengthAdjust="spacingAndGlyphs" >Regression coefficient</text>
</svg>
</body></html>
